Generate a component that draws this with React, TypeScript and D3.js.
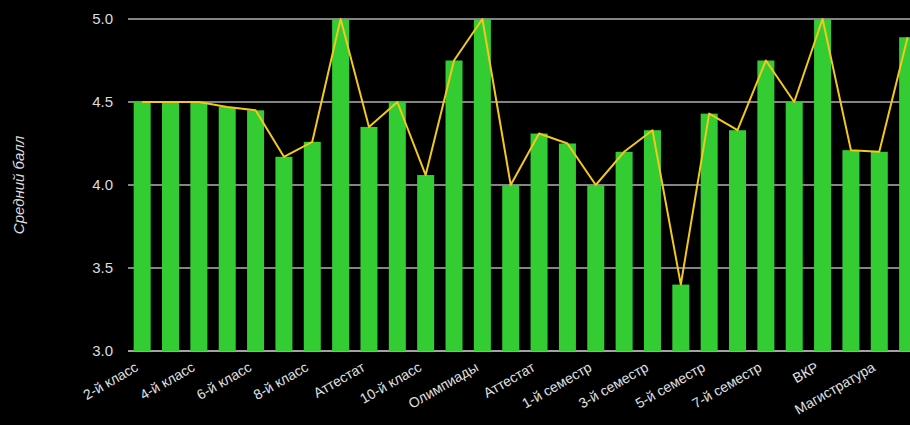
import React, { useEffect, useRef } from "react";
import * as d3 from "d3";

const categories = [
  "2-й класс", "3-й класс", "4-й класс", "5-й класс", "6-й класс", "7-й класс",
  "8-й класс", "9-й класс", "Аттестат", "ГИА", "10-й класс", "11-й класс",
  "Олимпиады", "ЕГЭ", "Аттестат ", "Поступление", "1-й семестр", "2-й семестр",
  "3-й семестр", "4-й семестр", "5-й семестр", "6-й семестр", "7-й семестр",
  "8-й семестр", "ВКР", "Диплом", "Магистратура", "1-й семестр маг.",
];
const barValues = [
  4.5, 4.5, 4.5, 4.47, 4.45, 4.17, 4.26, 5.0, 4.35, 4.5, 4.06, 4.75, 5.0, 4.0,
  4.31, 4.25, 4.0, 4.2, 4.33, 3.4, 4.43, 4.33, 4.75, 4.5, 5.0, 4.21, 4.2, 4.89,
];
const lineValues = [
  4.5, 4.5, 4.5, 4.47, 4.45, 4.17, 4.26, 5.0, 4.35, 4.5, 4.06, 4.75, 5.0, 4.0,
  4.31, 4.25, 4.0, 4.2, 4.33, 3.4, 4.43, 4.33, 4.75, 4.5, 5.0, 4.21, 4.2, 4.89,
];
const yTicks = [3.0, 3.5, 4.0, 4.5, 5.0];
const yTitle = "Средний балл";

const W = 910;
const H = 425;

export default function App() {
  const ref = useRef<SVGSVGElement>(null);

  useEffect(() => {
    const svg = d3.select(ref.current);
    svg.selectAll("*").remove();
    const font = "'Liberation Sans', Arial, sans-serif";

    const x = d3
      .scaleBand<string>()
      .domain(categories)
      .range([128, 128 + 28 * 28.35])
      .paddingInner(0.4)
      .paddingOuter(0.2);
    const y = d3.scaleLinear().domain([3, 5]).range([351, 19]);
    const cx = (i: number) => (x(categories[i]) as number) + x.bandwidth() / 2;

    svg.append("rect").attr("width", W).attr("height", H).attr("fill", "#000");

    const grid = svg.append("g");
    yTicks.forEach((t) => {
      grid
        .append("line")
        .attr("x1", 128)
        .attr("x2", W)
        .attr("y1", y(t))
        .attr("y2", y(t))
        .attr("stroke", t === 3 ? "#d8d8d8" : "#b0b0b0")
        .attr("stroke-width", 1.5);
      grid
        .append("text")
        .attr("x", 113)
        .attr("y", y(t))
        .attr("dy", "0.36em")
        .attr("text-anchor", "end")
        .attr("fill", "#dcdcdc")
        .attr("font-family", font)
        .attr("font-size", 15)
        .text(t.toFixed(1));
    });

    svg
      .append("g")
      .selectAll("rect")
      .data(barValues)
      .join("rect")
      .attr("x", (_, i) => x(categories[i]) as number)
      .attr("y", (d) => y(d))
      .attr("width", x.bandwidth())
      .attr("height", (d) => y(3) - y(d))
      .attr("fill", "#33cc33");

    const line = d3
      .line<number>()
      .x((_, i) => cx(i))
      .y((d) => y(d));
    svg
      .append("path")
      .attr("d", line(lineValues) || "")
      .attr("fill", "none")
      .attr("stroke", "#f2c81e")
      .attr("stroke-width", 2)
      .attr("stroke-linejoin", "round");

    const labels = svg.append("g");
    categories.forEach((c, i) => {
      if (i % 2 !== 0) return;
      labels
        .append("text")
        .attr("transform", `translate(${cx(i) - 3},370) rotate(-30)`)
        .attr("text-anchor", "end")
        .attr("fill", "#e0e0e0")
        .attr("font-family", font)
        .attr("font-size", 14)
        .text(c);
    });

    svg
      .append("text")
      .attr("transform", "translate(24,185) rotate(-90)")
      .attr("text-anchor", "middle")
      .attr("fill", "#dcdcdc")
      .attr("font-family", font)
      .attr("font-size", 15)
      .attr("font-style", "italic")
      .text(yTitle);
  }, []);

  return (
    <div style={{ position: "absolute", left: 0, top: 0, width: W, height: H, background: "#000" }}>
      <style>{"body{margin:0;background:#000;}"}</style>
      <svg ref={ref} width={W} height={H} style={{ display: "block" }} />
    </div>
  );
}
